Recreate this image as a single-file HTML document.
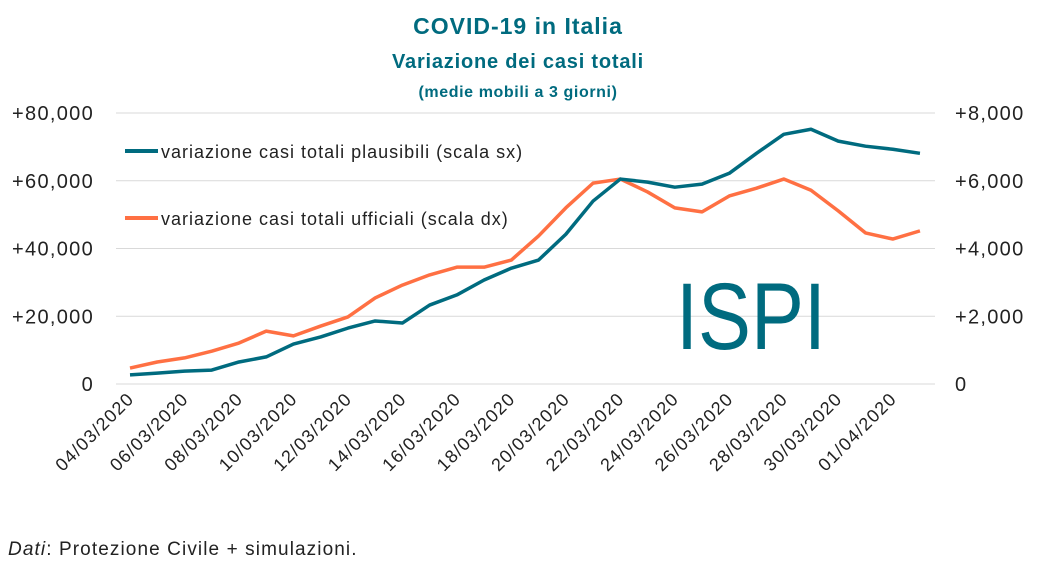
<!DOCTYPE html>
<html><head><meta charset="utf-8"><style>
body{margin:0;background:#fff;width:1037px;height:569px;overflow:hidden;font-family:"Liberation Sans",sans-serif}
</style></head><body>
<svg width="1037" height="569" id="chart">
<text x="518" y="34" text-anchor="middle" font-size="23" font-weight="bold" fill="#006B7F" letter-spacing="1">COVID-19 in Italia</text>
<text x="518" y="68" text-anchor="middle" font-size="20" font-weight="bold" fill="#006B7F" letter-spacing="0.8">Variazione dei casi totali</text>
<text x="518" y="97" text-anchor="middle" font-size="16" font-weight="bold" fill="#006B7F" letter-spacing="0.6">(medie mobili a 3 giorni)</text>
<g id="grid"></g><g id="axes"></g>
<text x="676" y="349" font-size="95" fill="#006B7F" textLength="150" lengthAdjust="spacingAndGlyphs">ISPI</text>
<g id="series"></g>
<line x1="125" y1="151" x2="158" y2="151" stroke="#006B7F" stroke-width="4"/>
<text x="161" y="158" font-size="18" fill="#222" letter-spacing="1">variazione casi totali plausibili (scala sx)</text>
<line x1="125" y1="218" x2="158" y2="218" stroke="#FF7043" stroke-width="4"/>
<text x="161" y="225" font-size="18" fill="#222" letter-spacing="1">variazione casi totali ufficiali (scala dx)</text>
<text x="8" y="555" font-size="19" fill="#222" letter-spacing="1.1"><tspan font-style="italic">Dati</tspan>: Protezione Civile + simulazioni.</text>
</svg>
<script>
const dates=["04/03/2020","05/03/2020","06/03/2020","07/03/2020","08/03/2020","09/03/2020","10/03/2020","11/03/2020","12/03/2020","13/03/2020","14/03/2020","15/03/2020","16/03/2020","17/03/2020","18/03/2020","19/03/2020","20/03/2020","21/03/2020","22/03/2020","23/03/2020","24/03/2020","25/03/2020","26/03/2020","27/03/2020","28/03/2020","29/03/2020","30/03/2020","31/03/2020","01/04/2020","02/04/2020"];
const plausibili=[2700,3200,3800,4100,6500,8000,11800,13900,16500,18600,18000,23300,26300,30700,34200,36600,44200,54000,60500,59600,58100,59000,62200,68100,73700,75200,71700,70200,69300,68100];
const ufficiali=[470,650,770,970,1210,1560,1420,1710,1980,2540,2920,3220,3450,3450,3660,4370,5200,5930,6050,5670,5200,5080,5550,5780,6050,5720,5110,4460,4280,4520];
const leftTicks=[0,20000,40000,60000,80000];
const rightTicks=[0,2000,4000,6000,8000];
const NS="http://www.w3.org/2000/svg";
const x0=130,dx=27.24,yB=384,yT=113;
const xS=i=>x0+i*dx;
const yL=v=>yB-(v/80000)*(yB-yT);
const yR=v=>yB-(v/8000)*(yB-yT);
function mk(t,a,p){const e=document.createElementNS(NS,t);for(const k in a)e.setAttribute(k,a[k]);p.appendChild(e);return e;}
const grid=document.getElementById('grid'),axes=document.getElementById('axes'),ser=document.getElementById('series');
const fmt=v=>v===0?"0":"+"+v.toLocaleString('en-US');
leftTicks.forEach((v,i)=>{
 if(v>0){const l=mk('line',{x1:116,x2:935,y1:yL(v),y2:yL(v),stroke:'#d9d9d9','stroke-width':1},grid);
 
 }
 const t=mk('text',{x:94,y:yL(v)+7,'text-anchor':'end','font-size':20,fill:'#222','letter-spacing':1.3},axes);t.textContent=fmt(v);
 
 
});
rightTicks.forEach(v=>{
 const t=mk('text',{x:955,y:yR(v)+7,'font-size':20,fill:'#222','letter-spacing':1.3},axes);t.textContent=fmt(v);
 
 
});
const ax=mk('line',{x1:116,x2:935,y1:yB,y2:yB,stroke:'#d9d9d9','stroke-width':1},axes);


dates.forEach((d,i)=>{
 if(i%2)return;
 const x=xS(i)+5,y=yB+16;
 const t=mk('text',{x:x,y:y,'text-anchor':'end','font-size':18,fill:'#222','letter-spacing':1.2,transform:`rotate(-45 ${x} ${y})`},axes);t.textContent=d;
 
 
});
function line(vals,sc,col,name){
 const p=mk('polyline',{points:vals.map((v,i)=>xS(i)+','+sc(v)).join(' '),fill:'none',stroke:col,'stroke-width':3.5,'stroke-linejoin':'round'},ser);
 
 
}
line(ufficiali,yR,'#FF7043','series-ufficiali');
line(plausibili,yL,'#006B7F','series-plausibili');
</script>
</body></html>
